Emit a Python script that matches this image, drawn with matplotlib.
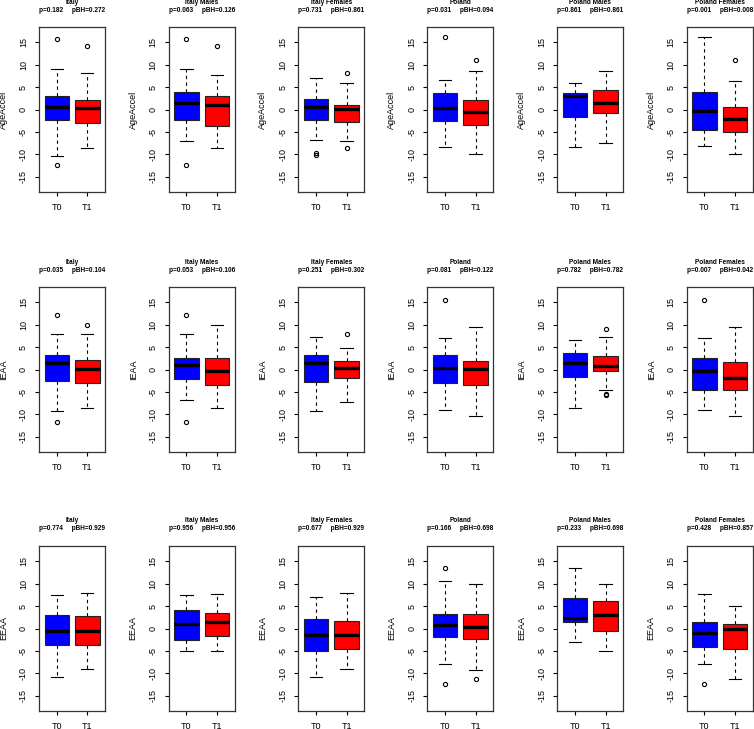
import matplotlib
matplotlib.use("Agg")
import matplotlib.pyplot as plt

groups = ["Italy", "Italy Males", "Italy Females", "Poland", "Poland Males", "Poland Females"]
measures = ["AgeAccel", "IEAA", "EEAA"]
timepoints = ["T0", "T1"]

p_values = [[0.182, 0.063, 0.731, 0.031, 0.861, 0.001],
            [0.035, 0.053, 0.251, 0.081, 0.782, 0.007],
            [0.774, 0.956, 0.677, 0.166, 0.233, 0.428]]
pbh_values = [[0.272, 0.126, 0.861, 0.094, 0.861, 0.008],
              [0.104, 0.106, 0.302, 0.122, 0.782, 0.042],
              [0.929, 0.956, 0.929, 0.698, 0.698, 0.857]]

# box stats: [whisker low, Q1, median, Q3, whisker high]
ageaccel_t0 = [[-10.3, -2.42, 0.63, 2.94, 9.05], [-6.96, -2.35, 1.45, 3.98, 9.05],
               [-6.8, -2.35, 0.63, 2.42, 7.1], [-8.45, -2.57, 0.26, 3.69, 6.5],
               [-8.45, -1.6, 2.94, 3.61, 6.0], [-8.08, -4.58, -0.34, 3.98, 16.27]]
ageaccel_t1 = [[-8.67, -2.94, 0.26, 2.2, 8.15], [-8.67, -3.76, 1.08, 3.09, 7.63],
               [-6.97, -2.72, 0.11, 1.08, 5.99], [-9.87, -3.46, -0.48, 2.05, 8.67],
               [-7.41, -0.78, 1.38, 4.36, 8.67], [-9.87, -4.95, -2.05, 0.56, 6.44]]
ageaccel_out_t0 = [[15.7, -12.4], [15.7, -12.4], [-9.8, -10.1], [16.27], [], []]
ageaccel_out_t1 = [[14.26], [14.26], [8.23, -8.53], [10.98], [], [10.98]]

ieaa_t0 = [[-9.2, -2.49, 1.38, 3.16, 8.0], [-6.74, -2.05, 1.0, 2.64, 8.0],
           [-9.2, -2.79, 1.38, 3.16, 7.26], [-9.05, -3.01, 0.41, 3.16, 6.96],
           [-8.53, -1.6, 1.38, 3.61, 6.66], [-9.05, -4.58, -0.33, 2.5, 6.96]]
ieaa_t1 = [[-8.53, -3.01, 0.11, 2.2, 7.93], [-8.53, -3.54, -0.33, 2.57, 9.94],
           [-7.26, -1.82, 0.26, 1.9, 4.73], [-10.46, -3.54, 0.04, 1.9, 9.57],
           [-4.5, -0.33, 0.71, 3.0, 7.26], [-10.46, -4.58, -1.82, 1.6, 9.49]]
ieaa_out_t0 = [[12.25, -11.65], [12.25, -11.65], [], [15.6], [], [15.6]]
ieaa_out_t1 = [[9.94], [], [7.86], [], [9.05, -5.4, -5.6], []]

eeaa_t0 = [[-10.9, -3.64, -0.59, 2.97, 7.42], [-5.05, -2.52, 1.11, 4.23, 7.42],
           [-10.9, -5.05, -1.56, 2.15, 7.13], [-7.94, -1.93, 0.67, 3.27, 10.54],
           [-3.12, 1.34, 2.45, 6.83, 13.59], [-7.94, -4.16, -1.11, 1.34, 7.65]]
eeaa_t1 = [[-8.98, -3.64, -0.45, 2.82, 7.87], [-5.05, -1.63, 1.56, 3.41, 7.72],
           [-8.98, -4.6, -1.56, 1.78, 7.87], [-9.2, -2.45, 0.3, 3.27, 10.0],
           [-5.05, -0.45, 2.9, 6.09, 10.0], [-11.36, -4.68, -0.22, 1.04, 5.05]]
eeaa_out_t0 = [[], [], [], [13.5, -12.47], [], [-12.47]]
eeaa_out_t1 = [[], [], [], [-11.28], [], []]

yticks = [-15, -10, -5, 0, 5, 10, 15]

stats_t0 = [ageaccel_t0, ieaa_t0, eeaa_t0]
stats_t1 = [ageaccel_t1, ieaa_t1, eeaa_t1]
out_t0 = [ageaccel_out_t0, ieaa_out_t0, eeaa_out_t0]
out_t1 = [ageaccel_out_t1, ieaa_out_t1, eeaa_out_t1]

W, H = 754, 729
fig = plt.figure(figsize=(W / 100, H / 100), dpi=100)
plt.rcParams["font.family"] = ["Liberation Sans", "DejaVu Sans"]

col_left = [39, 168.7, 298.3, 427.3, 557.3, 686.7]
row_top = [27, 287, 546]
ax_w, ax_h = 66, 165

def fx(px):
    return px / W

def fy(py):
    return 1 - py / H

def mk(s, fliers, label):
    return dict(whislo=s[0], q1=s[1], med=s[2], q3=s[3], whishi=s[4], fliers=fliers, label=label)

colors = ["#0000FF", "#FF0000"]

for r in range(3):
    for c in range(6):
        L, T = col_left[c], row_top[r]
        ax = fig.add_axes([fx(L), fy(T + ax_h), fx(ax_w), ax_h / H])
        st = [mk(stats_t0[r][c], out_t0[r][c], timepoints[0]),
              mk(stats_t1[r][c], out_t1[r][c], timepoints[1])]
        bp = ax.bxp(st, positions=[1, 2], widths=0.8, patch_artist=True,
                    boxprops=dict(edgecolor="#222222", linewidth=0.8),
                    medianprops=dict(color="black", linewidth=2.4, solid_capstyle="butt"),
                    whiskerprops=dict(color="black", linewidth=0.8, linestyle=(0, (3, 3))),
                    capprops=dict(color="black", linewidth=0.8),
                    flierprops=dict(marker="o", markersize=3, markerfacecolor="none",
                                    markeredgecolor="black", markeredgewidth=0.8),
                    capwidths=0.4)
        for patch, col in zip(bp["boxes"], colors):
            patch.set_facecolor(col)
        ax.set_xlim(0.42, 2.58)
        ax.set_ylim(-18.4, 18.4)
        ax.set_yticks(yticks)
        ax.set_yticklabels([str(v) for v in yticks], rotation=90, va="center")
        ax.set_xticks([1, 2])
        ax.set_xticklabels(timepoints)
        ax.tick_params(axis="both", direction="out", length=3, width=0.8,
                       labelsize=6.5, colors="black")
        ax.tick_params(axis="y", pad=5)
        ax.tick_params(axis="x", pad=5)
        for sp in ax.spines.values():
            sp.set_linewidth(0.9)
            sp.set_color("#333333")
        cx = L + ax_w / 2
        fig.text(fx(cx), fy(T - 25), groups[c], ha="center", va="center",
                 fontsize=4.7, fontweight="bold")
        fig.text(fx(cx), fy(T - 17),
                 "p=%.3f     pBH=%.3f" % (p_values[r][c], pbh_values[r][c]),
                 ha="center", va="center", fontsize=4.7, fontweight="bold")
        fig.text(fx(L - 35.5), fy(T + ax_h / 2), measures[r], rotation=90,
                 ha="center", va="center", fontsize=6.5)

fig.savefig("out.png", dpi=100)
